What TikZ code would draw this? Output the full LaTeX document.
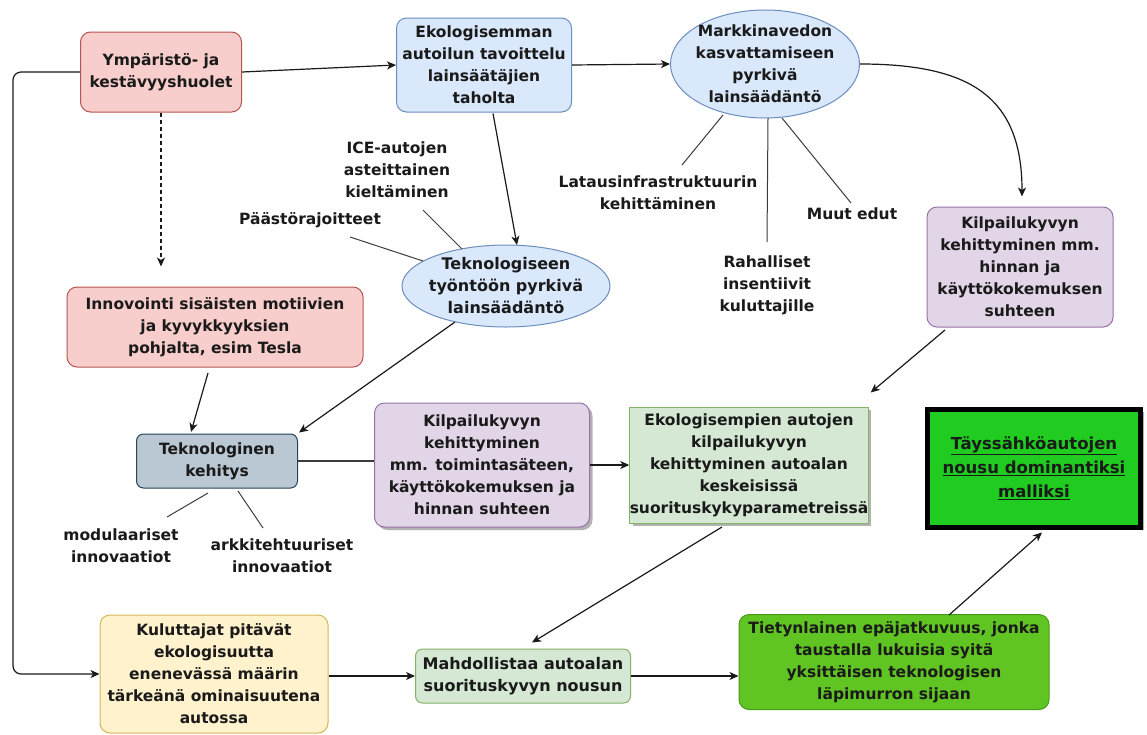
\documentclass[tikz,border=0pt]{standalone}
\usepackage{fontspec}
\setmainfont{DejaVu Sans}
\usetikzlibrary{arrows.meta,calc,shapes.geometric,shadows}
\definecolor{txt}{HTML}{1A1A1A}
\definecolor{lineC}{HTML}{1A1A1A}
\definecolor{redF}{HTML}{F8CECC}\definecolor{redD}{HTML}{B85450}
\definecolor{blueF}{HTML}{DAE8FC}\definecolor{blueD}{HTML}{6C8EBF}
\definecolor{purF}{HTML}{E1D5E7}\definecolor{purD}{HTML}{9673A6}
\definecolor{grayF}{HTML}{BAC8D3}\definecolor{grayD}{HTML}{23445D}
\definecolor{grnF}{HTML}{D5E8D4}\definecolor{grnD}{HTML}{82B366}
\definecolor{yelF}{HTML}{FFF2CC}\definecolor{yelD}{HTML}{D6B656}
\definecolor{limeF}{HTML}{60C422}\definecolor{limeD}{HTML}{4A9A18}
\definecolor{brightF}{HTML}{1FCC1F}
\begin{document}
\begin{tikzpicture}[x=1pt,y=-1pt,
  every node/.style={font=\fontsize{15.5}{22}\selectfont\bfseries, text=txt, align=center, inner sep=0pt},
  box/.style={draw, rounded corners=10pt, line width=1pt},
  redbox/.style={box, fill=redF, draw=redD},
  bluebox/.style={box, fill=blueF, draw=blueD},
  purbox/.style={box, fill=purF, draw=purD},
  graybox/.style={box, fill=grayF, draw=grayD, rounded corners=7pt},
  grnbox/.style={box, fill=grnF, draw=grnD},
  yelbox/.style={box, fill=yelF, draw=yelD},
  limebox/.style={box, fill=limeF, draw=limeD},
  blueell/.style={ellipse, draw=blueD, fill=blueF, line width=1pt},
  shad/.style={drop shadow={shadow xshift=3pt, shadow yshift=-3pt, opacity=0.3, fill=black}},
  arr/.style={draw=lineC, line width=1.2pt, -{Stealth[length=9pt,width=8pt,inset=2.5pt]}},
  ln/.style={draw=lineC!85, line width=1pt},
]
\fill[white] (0,0) rectangle (1147,734);
\useasboundingbox (0,0) rectangle (1147,734);

% nodes
\node[redbox, minimum width=161pt, minimum height=80pt] (ymp) at (161,72) {Ympäristö- ja\\kestävyyshuolet};
\node[bluebox, minimum width=175pt, minimum height=94pt] (ekol) at (484,65) {Ekologisemman\\autoilun tavoittelu\\lainsäätäjien\\taholta};
\node[blueell, minimum width=189pt, minimum height=108pt] (mark) at (765,64) {};
\node (markt) at (mark.center) {Markkinavedon\\kasvattamiseen\\pyrkivä\\lainsäädäntö};
\node (ice) at (397,170) {ICE-autojen\\asteittainen\\kieltäminen};
\node (paasto) at (310,220) {Päästörajoitteet};
\node[blueell, minimum width=208pt, minimum height=82pt] (tekno) at (506,286) {};
\node[font=\fontsize{16}{22}\selectfont\bfseries] (teknot) at (tekno.center) {Teknologiseen\\työntöön pyrkivä\\lainsäädäntö};
\node (lataus) at (658,193) {Latausinfrastruktuurin\\kehittäminen};
\node (rah) at (767,285) {Rahalliset\\insentiivit\\kuluttajille};
\node (muut) at (852,214) {Muut edut};
\node[purbox, minimum width=186pt, minimum height=120pt] (kilpR) at (1020,267) {Kilpailukyvyn\\kehittyminen mm.\\hinnan ja\\käyttökokemuksen\\suhteen};
\node[redbox, minimum width=296pt, minimum height=80pt] (innov) at (215,327) {Innovointi sisäisten motiivien\\ja kyvykkyyksien\\pohjalta, esim Tesla};
\node[graybox, minimum width=161pt, minimum height=54pt] (tekk) at (217,461) {Teknologinen\\kehitys};
\node (modul) at (121,546) {modulaariset\\innovaatiot};
\node (arkki) at (282,556) {arkkitehtuuriset\\innovaatiot};
\node[purbox, shad, minimum width=215pt, minimum height=124pt] (kilpM) at (482,465) {Kilpailukyvyn\\kehittyminen\\mm. toimintasäteen,\\käyttökokemuksen ja\\hinnan suhteen};
\node[draw=grnD, fill=grnF, line width=1pt, shad, minimum width=238pt, minimum height=116pt] (eko) at (749,465) {Ekologisempien autojen\\kilpailukyvyn\\kehittyminen autoalan\\keskeisissä\\suorituskykyparametreissä};
\node[draw=black, fill=brightF, line width=5pt, shad, minimum width=213pt, minimum height=118pt, font=\fontsize{16.5}{24}\selectfont\bfseries] (taeys) at (1034,468) {\underline{Täyssähköautojen}\\\underline{nousu dominantiksi}\\\underline{malliksi}};
\node[yelbox, minimum width=228pt, minimum height=118pt] (kul) at (214,674) {Kuluttajat pitävät\\ekologisuutta\\enenevässä määrin\\tärkeänä ominaisuutena\\autossa};
\node[grnbox, rounded corners=7pt, minimum width=215pt, minimum height=54pt, font=\fontsize{16}{22}\selectfont\bfseries] (mahd) at (523,676) {Mahdollistaa autoalan\\suorituskyvyn nousun};
\node[limebox, minimum width=310pt, minimum height=95pt] (tiet) at (894,662) {Tietynlainen epäjatkuvuus, jonka\\taustalla lukuisia syitä\\yksittäisen teknologisen\\läpimurron sijaan};

% connectors
\draw[arr] (ymp.east) -- (ekol.west);
\draw[arr] (ekol.east) -- (mark.west);
\draw[arr] (mark.east) .. controls +(110,0) and +(0,-100) .. ($(kilpR.north)+(2,-10)$);
\draw[arr, rounded corners=8pt] (ymp.west) -- ++(-67,0) |- (kul.west);
\draw[arr, dash pattern=on 4pt off 3pt] (ymp.south) -- ($(ymp.south |- innov.north)+(0,-20)$);
\draw[arr] ($(ekol.south)+(9,1)$) -- ($(tekno.center)+(11,-41)$);
\draw[ln] ($(ice.center)+(26,40)$) -- ($(tekno.center)+(-44,-37)$);
\draw[ln] ($(paasto.center)+(40,17)$) -- ($(tekno.center)+(-83,-25)$);
\draw[ln] ($(mark.center)+(-42,51)$) -- ($(lataus.center)+(24,-28)$);
\draw[ln] ($(mark.center)+(3,54)$) -- ($(rah.center)+(0,-43)$);
\draw[ln] ($(mark.center)+(17,54)$) -- ($(muut.center)+(-1,-11)$);
\draw[arr] ($(tekno.center)+(-51,36)$) -- ($(tekk.north east)+(1,-1)$);
\draw[arr] ($(innov.center)+(-7,46)$) -- ($(tekk.center)+(-26,-29)$);
\draw[arr] ($(kilpR.center)+(-75,63)$) -- ($(eko.north east)+(2,-14)$);
\draw[ln, line width=1.2pt] (tekk.east) -- (tekk.east -| kilpM.west);
\draw[arr] (kilpM.east) -- (eko.west);
\draw[ln] ($(tekk.center)+(-9,32)$) -- ($(modul.center)+(46,-29)$);
\draw[ln] ($(tekk.center)+(21,30)$) -- ($(arkki.center)+(-19,-28)$);
\draw[arr] ($(eko.center)+(-27,62)$) -- ($(mahd.north)+(9,-6)$);
\draw[arr] (mahd.west -| kul.east) -- (mahd.west);
\draw[arr] (mahd.east) -- (mahd.east -| tiet.west);
\draw[arr] ($(tiet.center)+(55,-47)$) -- ($(taeys.south)+(8,3)$);
\end{tikzpicture}
\end{document}
